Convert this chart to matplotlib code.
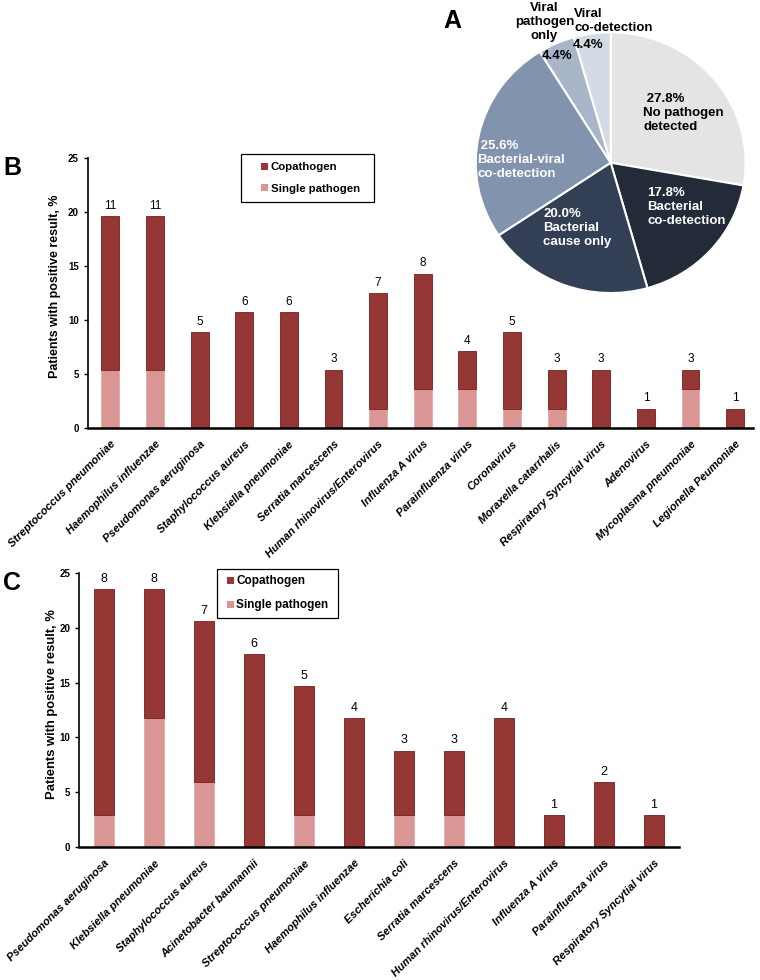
import matplotlib
matplotlib.use("Agg")
import matplotlib.pyplot as plt
from matplotlib.patches import Patch, Rectangle
from matplotlib.legend_handler import HandlerPatch

plt.rcParams['font.family'] = ['Liberation Sans', 'DejaVu Sans']

# Panel A: pie of pathogen detection
pie_labels = ['No pathogen\ndetected', 'Bacterial\nco-detection', 'Bacterial\ncause only',
              'Bacterial-viral\nco-detection', 'Viral\npathogen\nonly', 'Viral\nco-detection']
pie_values = [27.8, 17.8, 20.0, 25.6, 4.4, 4.4]
pie_colors = ['#e4e4e4', '#232b38', '#333f54', '#8193ad', '#a9b5c8', '#d3dbe6']

# Panel B
b_names = ['Streptococcus pneumoniae', 'Haemophilus influenzae', 'Pseudomonas aeruginosa',
           'Staphylococcus aureus', 'Klebsiella pneumoniae', 'Serratia marcescens',
           'Human rhinovirus/Enterovirus', 'Influenza A virus', 'Parainfluenza virus',
           'Coronavirus', 'Moraxella catarrhalis', 'Respiratory Syncytial virus',
           'Adenovirus', 'Mycoplasma pneumoniae', 'Legionella Peumoniae']
b_total = [19.6, 19.6, 8.9, 10.7, 10.7, 5.4, 12.5, 14.3, 7.1, 8.9, 5.4, 5.4, 1.8, 5.4, 1.8]
b_single = [5.4, 5.4, 0, 0, 0, 0, 1.8, 3.6, 3.6, 1.8, 1.8, 0, 0, 3.6, 0]
b_counts = [11, 11, 5, 6, 6, 3, 7, 8, 4, 5, 3, 3, 1, 3, 1]

# Panel C
c_names = ['Pseudomonas aeruginosa', 'Klebsiella pneumoniae', 'Staphylococcus aureus',
           'Acinetobacter baumannii', 'Streptococcus pneumoniae', 'Haemophilus influenzae',
           'Escherichia coli', 'Serratia marcescens', 'Human rhinovirus/Enterovirus',
           'Influenza A virus', 'Parainfluenza virus', 'Respiratory Syncytial virus']
c_total = [23.5, 23.5, 20.6, 17.6, 14.7, 11.8, 8.8, 8.8, 11.8, 2.9, 5.9, 2.9]
c_single = [2.9, 11.8, 5.9, 0, 2.9, 0, 2.9, 2.9, 0, 0, 0, 0]
c_counts = [8, 8, 7, 6, 5, 4, 3, 3, 4, 1, 2, 1]

CO = '#953735'
SINGLE = '#d99694'


class SquareHandler(HandlerPatch):
    # small square sitting at the right end of the handle box
    def create_artists(self, legend, orig_handle, xdescent, ydescent,
                       width, height, fontsize, trans):
        s = 5
        p = Rectangle((-xdescent + width - s, -ydescent + (height - s) / 2), s, s,
                      facecolor=orig_handle.get_facecolor(), edgecolor='none',
                      transform=trans)
        return [p]


fig = plt.figure(figsize=(7.6, 9.8), dpi=100)


def bar_panel(ax, names, total, single, counts, xmax, numsize, ylsize,
              legsize, handlelen, tail, lspace, bpad):
    x = list(range(len(names)))
    co = [t - s for t, s in zip(total, single)]
    ax.bar(x, single, width=0.4, color=SINGLE, edgecolor='#e0a3a2', linewidth=0.5)
    ax.bar(x, co, bottom=single, width=0.4, color=CO, edgecolor='#7a1c1c', linewidth=0.6)
    for xi, t, c in zip(x, total, counts):
        ax.annotate(str(c), (xi, t), xytext=(0, 3), textcoords='offset points',
                    ha='center', va='bottom', fontsize=numsize)
    ax.set_xlim(-0.5, xmax)
    ax.set_ylim(0, 25)
    ax.set_yticks([0, 5, 10, 15, 20, 25])
    ax.set_xticks(x)
    ax.set_xticklabels(names, rotation=45, ha='right', rotation_mode='anchor',
                       fontsize=8, fontweight='bold', fontstyle='italic')
    ax.tick_params(axis='x', length=0, pad=8)
    ax.tick_params(axis='y', length=3, width=1, labelsize=7, direction='out')
    for lab in ax.get_yticklabels():
        lab.set_fontweight('bold')
    ax.spines['top'].set_visible(False)
    ax.spines['right'].set_visible(False)
    ax.spines['left'].set_linewidth(1.2)
    ax.spines['bottom'].set_linewidth(1.8)
    ax.set_ylabel('Patients with positive result, %', fontsize=ylsize, fontweight='bold')
    handles = [Patch(facecolor=CO, label='Copathogen'),
               Patch(facecolor=SINGLE, label='Single pathogen' + ' ' * tail)]
    leg = ax.legend(handles=handles, loc='upper left', bbox_to_anchor=(0.23, 1.015),
                    borderaxespad=0, fancybox=False, edgecolor='black', framealpha=1,
                    prop={'weight': 'bold', 'size': legsize}, handlelength=handlelen,
                    handleheight=0.7, handletextpad=0.2, labelspacing=lspace,
                    borderpad=bpad, handler_map={Patch: SquareHandler()})
    leg.get_frame().set_linewidth(0.9)


axB = fig.add_axes([0.1158, 0.5633, 0.875, 0.2755])
bar_panel(axB, b_names, b_total, b_single, b_counts, 14.4,
          numsize=8.5, ylsize=9.0, legsize=8.2, handlelen=1.65, tail=2,
          lspace=1.0, bpad=0.75)
axB.yaxis.set_label_coords(-0.041, 0.524)

axC = fig.add_axes([0.104, 0.1357, 0.789, 0.2796])
bar_panel(axC, c_names, c_total, c_single, c_counts, 11.5,
          numsize=9, ylsize=9.4, legsize=8.5, handlelen=0.9, tail=1,
          lspace=1.0, bpad=0.55)
axC.yaxis.set_label_coords(-0.035, 0.52)

# Pie (drawn last so it sits above panel B)
axA = fig.add_axes([0.626, 0.701, 0.355, 0.266])
wedges, _ = axA.pie(pie_values, colors=pie_colors, startangle=90, counterclock=False,
                    wedgeprops={'edgecolor': 'white', 'linewidth': 1.5})
axA.set_aspect('auto')
axA.set_xlim(-1.0, 1.0)
axA.set_ylim(-1.0, 1.0)
for w in wedges:
    w.set_clip_on(False)

pct = ['27.8%', '17.8%', '20.0%', '25.6%', '4.4%', '4.4%']
kw = dict(fontsize=9.5, fontweight='bold', linespacing=1.2)
axA.text(0.24, 0.38, ' ' + pct[0] + '\n' + pie_labels[0], ha='left', va='center', color='black', **kw)
axA.text(0.27, -0.34, pct[1] + '\n' + pie_labels[1], ha='left', va='center', color='white', **kw)
axA.text(-0.50, -0.50, pct[2] + '\n' + pie_labels[2], ha='left', va='center', color='white', **kw)
axA.text(-0.99, 0.02, ' ' + pct[3] + '\n' + pie_labels[3], ha='left', va='center', color='white', **kw)
axA.text(-0.40, 0.82, pct[4], ha='center', va='center', color='black', **kw)
axA.text(-0.17, 0.90, pct[5], ha='center', va='center', color='black', **kw)
axA.text(-0.49, 1.08, pie_labels[4], ha='center', va='center', color='black', **kw)
axA.text(-0.27, 1.09, pie_labels[5], ha='left', va='center', color='black', **kw)

fig.text(0.583, 0.979, 'A', fontsize=18, fontweight='bold', ha='left', va='center')
fig.text(0.004, 0.829, 'B', fontsize=18, fontweight='bold', ha='left', va='center')
fig.text(0.004, 0.405, 'C', fontsize=18, fontweight='bold', ha='left', va='center')

fig.savefig('out.png', dpi=100)
